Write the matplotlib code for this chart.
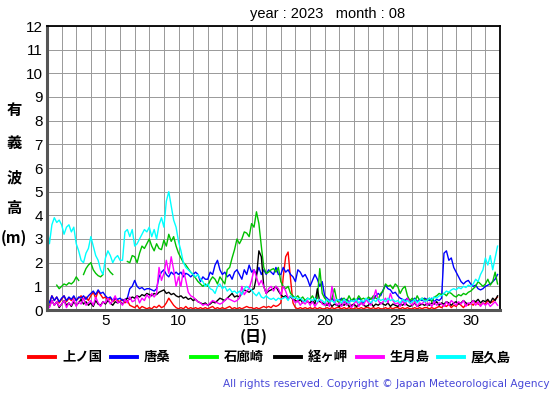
import numpy as np
import matplotlib
from matplotlib import pyplot as plt

matplotlib.use('Agg')

plt.rcParams['font.family'] = ['Liberation Sans', 'Noto Sans CJK JP', 'DejaVu Sans']

nan = np.nan

stations = ['上ノ国', '唐桑', '石廊崎', '経ヶ岬', '生月島', '屋久島']
colors = ['#ff0000', '#0000ff', '#00c000', '#000000', '#ff00ff', '#00ffff']
legend_colors = ['#ff0000', '#0000ff', '#00ff00', '#000000', '#ff00ff', '#00ffff']

# 有義波高 (m), 4時間ごと, 1日6個
kaminokuni = [
    0.5, 0.3, 0.6, 0.4, 0.55, 0.3,
    0.45, 0.6, 0.35, 0.5, 0.4, 0.55,
    0.4, 0.5, 0.6, 0.45, 0.55, 0.4,
    0.6, 0.75, 0.5, 0.8, 0.65, 0.5,
    0.55, 0.4, 0.5, 0.35, 0.45, 0.4,
    0.35, 0.45, 0.3, 0.4, 0.2, 0.15,
    0.1, 0.2, 0.05, 0.15, 0.1, 0.05,
    0.1, 0.05, 0.15, 0.1, 0.2, 0.1,
    0.15, 0.3, 0.5, 0.35, 0.2, 0.1,
    0.05, 0.1, 0.05, 0.15, 0.05, 0.1,
    0.05, 0.1, 0.05, 0.1, 0.05, 0.1,
    0.05, 0.1, 0.15, 0.05, 0.1, 0.05,
    0.1, 0.05, 0.1, 0.15, 0.05, 0.1,
    0.05, 0.1, 0.05, 0.1, 0.15, 0.1,
    0.1, 0.05, 0.1, 0.05, 0.1, 0.15,
    0.1, 0.15, 0.1, 0.2, 0.15, 0.2,
    0.3, 1.4, 2.25, 2.45, 1.3, 0.3,
    0.1, 0.05, 0.1, 0.05, 0.1, 0.05,
    0.1, 0.05, 0.1, 0.05, 0.1, 0.05,
    0.05, 0.1, 0.05, 0.1, 0.05, 0.1,
    0.1, 0.05, 0.1, 0.05, 0.1, 0.05,
    0.05, 0.1, 0.05, 0.1, 0.05, 0.1,
    0.1, 0.05, 0.1, 0.05, 0.1, 0.05,
    0.05, 0.1, 0.05, 0.1, 0.05, 0.1,
    0.1, 0.05, 0.1, 0.05, 0.1, 0.05,
    0.05, 0.1, 0.05, 0.1, 0.05, 0.1,
    0.1, 0.05, 0.1, 0.05, 0.1, 0.15,
    0.1, 0.2, 0.15, 0.25, 0.1, 0.2,
    0.15, 0.3, 0.2, 0.1, 0.25, 0.2,
    0.3, 0.2, 0.35, 0.25, 0.2, 0.3,
    0.25, 0.4, 0.3, 0.35, 0.45, 0.55,
]

karakuwa = [
    0.5, 0.3, 0.6, 0.4, 0.55, 0.35,
    0.5, 0.6, 0.4, 0.55, 0.45, 0.6,
    0.4, 0.55, 0.5, 0.6, 0.45, 0.6,
    0.7, 0.8, 0.65, 0.85, 0.7, 0.75,
    0.6, 0.5, 0.55, 0.4, 0.5, 0.45,
    0.5, 0.4, 0.45, 0.5, 0.9, 1.0,
    1.25, 1.0, 0.9, 0.95, 0.85, 0.9,
    0.9, 0.85, 0.8, 0.9, 1.4, 1.6,
    1.7, 1.5, 1.4, 1.6, 1.5, 1.6,
    1.5, 1.6, 1.4, 1.55, 1.5, 1.4,
    1.5, 1.6, 1.5, 1.2, 1.4, 1.3,
    1.3, 1.6, 1.5, 1.9, 2.1, 1.7,
    1.5, 1.6, 1.4, 1.5, 1.3, 1.6,
    1.7, 1.5, 1.3, 1.7, 1.5, 1.9,
    1.6, 1.7, 1.5, 1.8, 1.5, 1.7,
    1.5, 1.7, 1.6, 1.5, 1.8, 1.5,
    1.5, 1.8, 1.6, 1.7, 1.5, 1.4,
    1.2, 1.7, 1.6, 1.4, 1.5, 1.3,
    1.0, 1.25, 1.5, 1.3, 1.0, 1.2,
    0.6, 0.5, 0.4, 0.5, 0.35, 0.45,
    0.4, 0.5, 0.3, 0.45, 0.35, 0.4,
    0.45, 0.35, 0.5, 0.4, 0.3, 0.45,
    0.4, 0.5, 0.45, 0.6, 0.7, 0.6,
    0.85, 1.05, 0.9, 0.85, 0.7, 0.75,
    0.6, 0.5, 0.45, 0.4, 0.5, 0.35,
    0.4, 0.5, 0.35, 0.45, 0.4, 0.5,
    0.45, 0.4, 0.5, 0.35, 0.45, 0.4,
    0.5, 2.4, 2.5, 2.1, 2.2, 1.8,
    1.6, 1.4, 1.2, 1.1, 1.2, 1.25,
    1.1, 1.0, 1.05, 0.9, 0.85, 0.9,
    1.0, 1.05, 1.1, 1.2, 1.3, 1.5,
]

irozaki = [
    nan, nan, nan, nan, 1.05, 0.9,
    1.0, 1.1, 1.05, 1.15, 1.1, 1.2,
    1.4, 1.25, nan, 1.5, 1.75, 1.9,
    2.0, 1.7, 1.55, 1.45, 1.4, 1.5,
    nan, 1.75, 1.6, 1.5, nan, nan,
    nan, nan, nan, 2.05, 2.0, 2.3,
    2.25, 2.0, 2.4, 2.7, 2.6, 2.8,
    3.0, 2.7, 2.5, 2.8, 2.6, 2.55,
    2.95, 2.7, 3.2, 2.9, 3.1, 2.7,
    2.4, 2.2, 2.0, 1.9, 1.75, 1.6,
    1.5, 1.35, 1.2, 1.1, 1.0, 1.1,
    1.0, 1.25, 1.4, 1.3, 1.1, 1.4,
    1.25, 1.1, 1.7, 1.8, 2.2, 2.55,
    3.0, 2.8, 3.0, 3.3, 3.25, 3.1,
    3.65, 3.5, 4.15, 3.65, 2.7, 1.8,
    1.55, 1.6, 1.7, 1.75, 1.6, 1.8,
    1.2, 1.0, 0.9, 1.0, 0.7, 0.6,
    0.5, 0.6, 0.45, 0.55, 0.4, 0.5,
    0.45, 0.6, 0.4, 0.5, 1.75, 0.7,
    0.5, 0.4, 0.3, 0.5, 0.9, 0.4,
    0.3, 0.45, 0.5, 0.35, 0.6, 0.4,
    0.5, 0.4, 0.6, 0.45, 0.5, 0.4,
    0.55, 0.45, 0.6, 0.5, 0.45, 0.7,
    0.8, 1.1, 1.0, 1.05, 0.9, 1.1,
    1.0, 0.7, 0.9, 1.0, 0.6, 0.4,
    0.5, 0.35, 0.6, 0.4, 0.5, 0.45,
    0.4, 0.5, 0.35, 0.55, 0.6, 0.7,
    0.65, 0.7, 0.6, 0.75, 0.7, 0.6,
    0.55, 0.65, 0.6, 0.7, 0.65, 0.75,
    0.8, 0.9, 1.0, 1.2, 1.1, 1.0,
    1.1, 1.3, 1.05, 1.2, 1.6, 1.1,
]

kyogamisaki = [
    0.3, 0.15, 0.4, 0.2, 0.35, 0.1,
    0.25, 0.4, 0.2, 0.3, 0.15, 0.35,
    0.2, 0.3, 0.45, 0.25, 0.35, 0.2,
    0.3, 0.15, 0.4, 0.25, 0.2, 0.35,
    0.25, 0.4, 0.3, 0.2, 0.35, 0.3,
    0.35, 0.25, 0.4, 0.5, 0.45, 0.55,
    0.5, 0.6, 0.55, 0.65, 0.6, 0.7,
    0.65, 0.6, 0.7, 0.65, 0.75, 0.8,
    0.85, 0.7, 0.75, 0.65, 0.7, 0.6,
    0.55, 0.6, 0.5, 0.55, 0.45, 0.5,
    0.4, 0.45, 0.35, 0.3, 0.25, 0.3,
    0.2, 0.25, 0.35, 0.3, 0.4, 0.5,
    0.45, 0.4, 0.5, 0.6, 0.7, 0.55,
    0.6, 0.55, 0.7, 0.85, 0.8, 0.75,
    0.85, 0.9, 1.4, 2.5, 2.25, 1.0,
    0.7, 0.8, 0.85, 0.9, 1.0, 0.8,
    0.65, 0.55, 0.6, 0.5, 0.55, 0.45,
    0.4, 0.35, 0.45, 0.3, 0.4, 0.35,
    0.3, 0.4, 0.25, 0.9, 0.35, 0.3,
    0.25, 0.2, 0.3, 0.15, 0.25, 0.2,
    0.15, 0.25, 0.2, 0.3, 0.15, 0.2,
    0.25, 0.15, 0.2, 0.3, 0.2, 0.15,
    0.2, 0.3, 0.15, 0.25, 0.2, 0.3,
    0.25, 0.2, 0.3, 0.15, 0.25, 0.2,
    0.15, 0.25, 0.2, 0.3, 0.2, 0.15,
    0.2, 0.3, 0.15, 0.2, 0.25, 0.2,
    0.25, 0.2, 0.3, 0.25, 0.35, 0.2,
    0.3, 0.25, 0.35, 0.3, 0.2, 0.3,
    0.35, 0.25, 0.3, 0.4, 0.3, 0.25,
    0.3, 0.4, 0.35, 0.45, 0.3, 0.4,
    0.35, 0.45, 0.3, 0.5, 0.4, 0.6,
]

ikitsukishima = [
    0.3, 0.1, 0.4, 0.2, 0.35, 0.15,
    0.25, 0.4, 0.1, 0.3, 0.2, 0.45,
    0.15, 0.35, 0.25, 0.5, 0.2, 0.3,
    0.4, 0.2, 0.55, 0.3, 0.15, 0.35,
    0.3, 0.5, 0.25, 0.4, 0.6, 0.3,
    0.35, 0.2, 0.45, 0.3, 0.55, 0.35,
    0.4, 0.6, 0.3, 0.5, 0.4, 0.65,
    0.5, 0.7, 0.55, 0.7, 1.8, 1.25,
    1.55, 2.1, 1.55, 2.25, 1.7, 1.0,
    1.4, 1.0, 1.7, 1.25, 0.75, 0.6,
    0.55, 0.45, 0.35, 0.3, 0.2, 0.25,
    0.2, 0.3, 0.4, 0.35, 0.3, 0.25,
    0.3, 0.4, 0.5, 0.45, 0.4, 0.35,
    0.4, 0.5, 1.0, 0.65, 0.8, 0.9,
    1.25, 1.7, 1.4, 1.05, 1.25, 1.0,
    0.7, 0.9, 1.0, 0.8, 1.0, 0.9,
    0.65, 1.0, 0.8, 0.5, 0.6, 0.45,
    0.3, 0.4, 0.2, 0.35, 0.25, 0.4,
    0.2, 0.35, 0.15, 0.3, 0.45, 0.25,
    0.2, 0.3, 0.15, 1.0, 0.4, 0.2,
    0.3, 0.15, 0.4, 0.2, 0.35, 0.1,
    0.25, 0.4, 0.15, 0.3, 0.2, 0.45,
    0.3, 0.2, 0.5, 0.85, 0.4, 0.25,
    0.35, 0.5, 0.3, 0.7, 0.4, 0.25,
    0.3, 0.15, 0.4, 0.2, 0.5, 0.3,
    0.2, 0.35, 0.15, 0.3, 0.25, 0.4,
    0.2, 0.3, 0.15, 0.35, 0.2, 0.3,
    0.25, 0.15, 0.35, 0.2, 0.4, 0.3,
    0.2, 0.35, 0.25, 0.4, 0.15, 0.3,
    0.25, 0.4, 0.2, 0.35, 0.15, 0.3,
    0.2, 0.3, 0.15, 0.25, 0.35, 0.2,
]

yakushima = [
    3.5, 2.8, 3.6, 3.9, 3.7, 3.8,
    3.6, 3.2, 3.5, 3.6, 3.3, 3.5,
    2.8, 2.5, 2.1, 2.0, 2.4, 2.6,
    3.1, 2.7, 2.3, 2.1, 1.7, 1.5,
    2.2, 2.5, 2.3, 2.0, 2.2, 2.3,
    2.1, 2.1, 3.3, 3.4, 3.1, 3.4,
    2.7, 2.8, 3.0, 3.2, 3.4, 3.3,
    3.5, 3.1, 3.4, 3.0, 3.6, 3.9,
    3.5, 4.6, 5.0, 4.4, 3.8, 3.5,
    2.9, 2.5, 2.0, 1.8, 1.7, 1.6,
    1.5, 1.4, 1.5, 1.3, 1.2, 1.0,
    1.1, 0.9, 0.85, 0.7, 1.0, 1.1,
    0.9, 1.0, 0.8, 0.9, 0.75, 0.8,
    0.7, 0.8, 0.65, 0.9, 1.0, 0.9,
    0.85, 0.7, 0.6, 0.75, 0.55, 0.5,
    0.6, 0.5, 0.45, 0.5, 0.4, 0.5,
    0.45, 0.5, 0.55, 0.4, 0.6, 0.5,
    0.55, 0.45, 0.5, 0.4, 0.35, 0.5,
    0.45, 0.4, 0.5, 0.35, 0.45, 0.4,
    0.3, 0.45, 0.35, 0.4, 0.3, 0.45,
    0.4, 0.3, 0.45, 0.35, 0.3, 0.4,
    0.35, 0.45, 0.3, 0.4, 0.35, 0.5,
    0.4, 0.3, 0.45, 0.35, 0.5, 0.4,
    0.45, 0.35, 0.5, 0.4, 0.45, 0.35,
    0.4, 0.3, 0.45, 0.35, 0.4, 0.3,
    0.35, 0.45, 0.3, 0.4, 0.5, 0.35,
    0.4, 0.5, 0.45, 0.55, 0.5, 0.6,
    0.6, 0.7, 0.8, 0.75, 0.85, 0.9,
    0.85, 0.95, 0.9, 1.0, 0.95, 1.05,
    1.0, 1.1, 1.3, 1.2, 1.5, 1.7,
    2.2, 1.9, 2.3, 1.7, 2.2, 2.7,
]

series = [kaminokuni, karakuwa, irozaki, kyogamisaki, ikitsukishima, yakushima]

day_ticks = list(range(1, 33))
day_labels = [str(d) if d % 5 == 0 else '' for d in day_ticks]
height_ticks = list(range(0, 13))

W, H = 555, 395
fig = plt.figure(figsize=(W / 100, H / 100), dpi=100)
ax = fig.add_axes([47 / W, 1 - 310 / H, 453 / W, 284 / H])

for vals, c, name in zip(series, colors, stations):
    t = 1 + np.arange(len(vals)) / 6
    ax.plot(t, vals, color=c, lw=1.0, label=name)

ax.set_xlim(1, 32)
ax.set_ylim(0, 12)
ax.set_xticks(day_ticks)
ax.set_xticklabels(day_labels)
ax.set_yticks(height_ticks)
ax.tick_params(length=0, labelsize=11, pad=3)
ax.grid(True, color='#999999', lw=0.7)
ax.set_axisbelow(True)

for s in ['left', 'bottom']:
    ax.spines[s].set_color('#555555')
    ax.spines[s].set_linewidth(2.2)
for s in ['top', 'right']:
    ax.spines[s].set_color('black')
    ax.spines[s].set_linewidth(1.3)

fig.text(250 / W, 1 - 14 / H, 'year : 2023   month : 08', fontsize=10.5, va='center', ha='left')

cjk = ['Noto Sans CJK JP', 'DejaVu Sans']
for ch, yp in zip(['有', '義', '波', '高', '(m)'], [110, 143, 177, 208, 238]):
    fig.text(14 / W, 1 - yp / H, ch, family=cjk, fontsize=11, weight='bold',
             ha='center', va='center')

fig.text(254 / W, 1 - 337 / H, '(日)', family=cjk, fontsize=11.5, weight='bold',
         ha='center', va='center')

# 凡例 (手で並べる)
line_x = [29, 111, 191, 275, 357, 438]
for x0, c, name in zip(line_x, legend_colors, stations):
    yl = 1 - 357 / H
    fig.add_artist(plt.Line2D([x0 / W, (x0 + 26) / W], [yl, yl], color=c, lw=2.8))
    fig.text((x0 + 33) / W, yl, name, family=cjk, fontsize=9.6, weight='bold',
             ha='left', va='center')

fig.text(550 / W, 1 - 384 / H, 'All rights reserved. Copyright © Japan Meteorological Agency',
         family='DejaVu Sans', fontsize=7.6, color='#4848d8', ha='right', va='center')

fig.savefig('out.png', dpi=100)
